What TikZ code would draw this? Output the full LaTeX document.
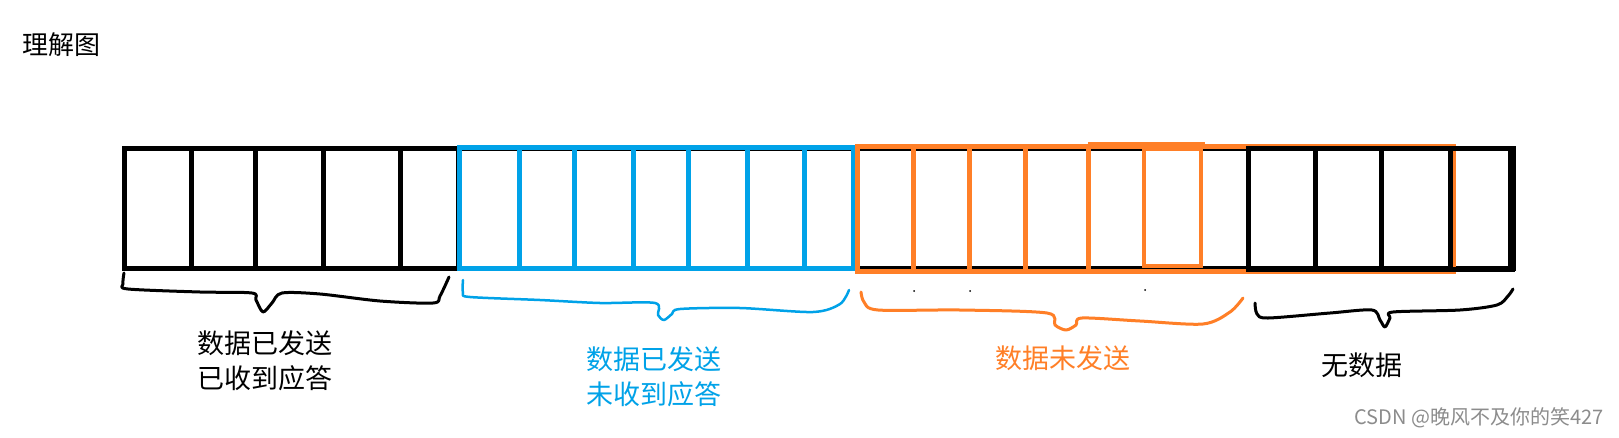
\documentclass[tikz,border=0pt]{standalone}
\usepackage{fontspec}
\newfontfamily\cjk{Noto Sans CJK SC}
\usepackage{xcolor}
\definecolor{paintblue}{HTML}{00A2E8}
\definecolor{paintorange}{HTML}{FF7F27}
\usetikzlibrary{positioning}

\begin{document}
\begin{tikzpicture}[
    x=1pt, y=-1pt,
    cell/.style={draw=#1, line width=5pt, line join=miter},
    cell/.default={black},
    brace/.style={draw=#1, line width=3pt, line cap=round, line join=round},
    brace/.default={black},
    label/.style={font=\cjk\fontsize{27}{35}\selectfont, text=#1, align=center, inner sep=0pt},
    label/.default={black},
]
    \useasboundingbox[fill=white] (0,0) rectangle (1619,437);

    % Title
    \node[label, font=\cjk\fontsize{26}{30}\selectfont] (title) at (61,45) {理解图};

    % Base strip -- sent and acknowledged
    \draw[cell] (124,148) -- (1512,148);
    \draw[cell] (124,268) -- (1512,268);
    \draw[cell] (124,148) rectangle (458,268);
    \foreach \x in {191,255,323,400}
        \draw[cell] (\x,148) -- (\x,268);

    % Sent, not acknowledged
    \draw[cell=paintblue] (459,147) rectangle (853,268);
    \foreach \x in {519,574,633,688,747,804}
        \draw[cell=paintblue] (\x,147) -- (\x,268);

    % Not sent yet
    \draw[cell=paintorange] (857,146) rectangle (1453,271);
    \foreach \x in {913,969,1025,1088}
        \draw[cell=paintorange] (\x,146) -- (\x,271);
    \draw[cell=paintorange] (1088,144) -- (1205,144);
    \draw[cell=paintorange, line width=4pt] (1144,149) rectangle (1201,266);

    % No data
    \draw[cell] (1248,148) rectangle (1512,269);
    \draw[black, line width=8pt] (1512,146) -- (1512,271);
    \foreach \x in {1315,1381,1450}
        \draw[cell] (\x,148) -- (\x,269);

    % Hand drawn braces
    \draw[brace] plot[smooth, tension=0.5] coordinates {
        (124,273) (123,284) (128,289) (200,292) (252,293) (256,300) (263,312)
        (272,303) (282,293) (320,294) (380,301) (433,303) (440,296) (449,277)};
    \draw[brace=paintblue, line width=2.5pt] plot[smooth, tension=0.5] coordinates {
        (463,280) (463,293) (470,297) (540,300) (600,303) (655,303) (658,315)
        (664,320) (672,314) (680,309) (740,308) (813,312) (840,304) (849,290)};
    \draw[brace=paintorange] plot[smooth, tension=0.5] coordinates {
        (861,292) (864,302) (878,310) (960,310) (1047,313) (1055,325) (1066,330)
        (1076,325) (1082,318) (1140,321) (1203,324) (1230,312) (1243,298)};
    \draw[brace] plot[smooth, tension=0.5] coordinates {
        (1255,303) (1257,314) (1268,318) (1330,313) (1372,310) (1380,320) (1385,327)
        (1390,318) (1393,312) (1460,310) (1497,305) (1508,296) (1513,289)};

    % Stray dots
    \foreach \x/\y in {914/291, 970/291, 1145/290}
        \fill (\x,\y) circle (1pt);

    % Labels
    \node[label] (acked) at (265,361) {数据已发送\\已收到应答};
    \node[label=paintblue] (unacked) at (654,377) {数据已发送\\未收到应答};
    \node[label=paintorange] (unsent) at (1063,358) {数据未发送};
    \node[label] (empty) at (1362,365) {无数据};

    % Watermark
    \node[font=\cjk\fontsize{20}{24}\selectfont, text=black!45, anchor=east, inner sep=0pt] (mark) at (1604,418) {CSDN @晚风不及你的笑427};
\end{tikzpicture}
\end{document}
